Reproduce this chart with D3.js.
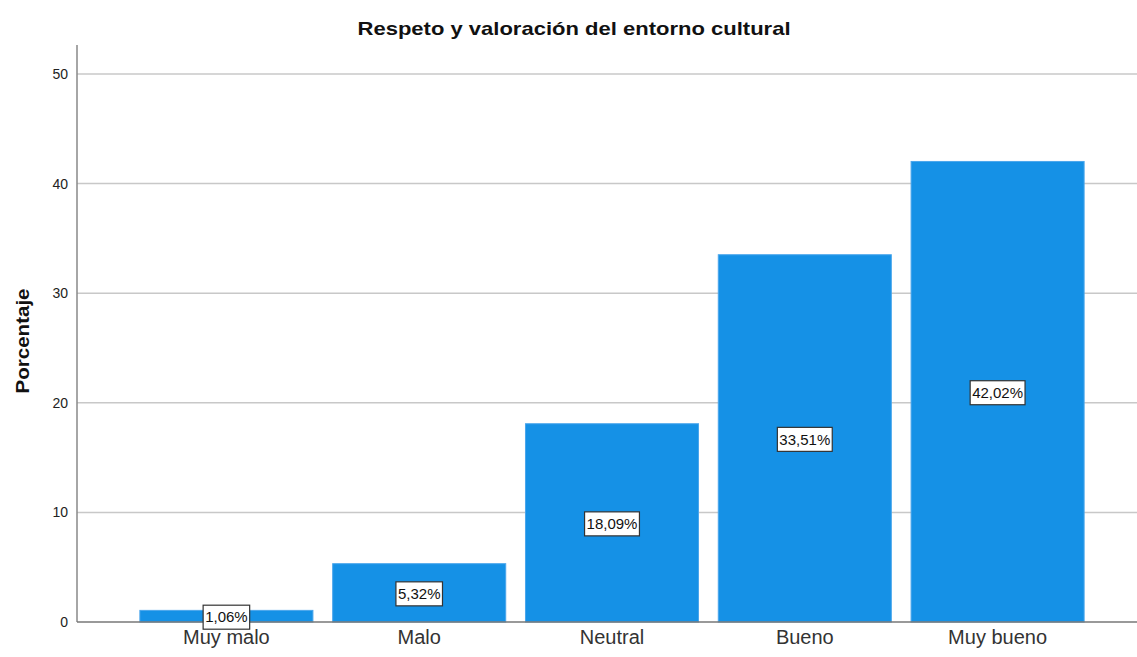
<!DOCTYPE html>
<html>
<head>
<meta charset="utf-8">
<script src="https://cdn.jsdelivr.net/npm/d3@7"></script>
<style>
  body { margin: 0; background: #fff; }
  text { font-family: "Liberation Sans", Arial, sans-serif; }
</style>
</head>
<body>
<svg id="chart" width="1137" height="657"></svg>
<script>
// Data
const categories = ["Muy malo", "Malo", "Neutral", "Bueno", "Muy bueno"]
const percentages = [1.06, 5.32, 18.09, 33.51, 42.02]
const yTicks = [0, 10, 20, 30, 40, 50]

const svg = d3.select("#chart")

const x = d3.scaleBand()
  .domain(categories)
  .range([130, 1094])
  .paddingInner(0.1025)
  .paddingOuter(0.05125)

const y = d3.scaleLinear()
  .domain([0, 50])
  .range([622, 74])

const axisLeft = 77
const axisRight = 1137

// Title
svg.append("text")
  .attr("x", 574)
  .attr("y", 35)
  .attr("text-anchor", "middle")
  .attr("font-size", 19)
  .attr("font-weight", "bold")
  .attr("fill", "#111")
  .attr("textLength", 433)
  .attr("lengthAdjust", "spacingAndGlyphs")
  .text("Respeto y valoración del entorno cultural")

// Gridlines
svg.append("g")
  .selectAll("line")
  .data(yTicks.filter(d => d > 0))
  .enter().append("line")
  .attr("x1", axisLeft)
  .attr("x2", axisRight)
  .attr("y1", d => y(d))
  .attr("y2", d => y(d))
  .attr("stroke", "#c8c8c8")
  .attr("stroke-width", 1.5)

// Y axis (labels only, no tick marks)
const yAxis = svg.append("g")
  .attr("transform", `translate(${axisLeft},0)`)
  .call(d3.axisLeft(y).tickValues(yTicks).tickSize(0).tickPadding(9))
yAxis.select(".domain").remove()
yAxis.selectAll("text")
  .attr("font-size", 14)
  .attr("fill", "#222")
  .style("font-family", "'Liberation Sans', Arial, sans-serif")

svg.append("line")
  .attr("x1", axisLeft).attr("x2", axisLeft)
  .attr("y1", 45).attr("y2", y(0))
  .attr("stroke", "#888")
  .attr("stroke-width", 1.5)

// Bars
svg.append("g")
  .selectAll("rect")
  .data(categories)
  .enter().append("rect")
  .attr("x", d => x(d))
  .attr("width", x.bandwidth())
  .attr("y", (d, i) => y(percentages[i]))
  .attr("height", (d, i) => y(0) - y(percentages[i]))
  .attr("fill", "#1591e6")
  .attr("stroke", "#4aa6ec")
  .attr("stroke-width", 1)

// Baseline
svg.append("line")
  .attr("x1", axisLeft).attr("x2", axisRight)
  .attr("y1", y(0)).attr("y2", y(0))
  .attr("stroke", "#777")
  .attr("stroke-width", 1.5)

// X axis labels
const xAxis = svg.append("g")
  .attr("transform", `translate(0,${y(0)})`)
  .call(d3.axisBottom(x).tickSize(0).tickPadding(8))
xAxis.select(".domain").remove()
xAxis.selectAll("text")
  .attr("font-size", 20)
  .attr("fill", "#333")
  .style("font-family", "'Liberation Sans', Arial, sans-serif")

// Y axis title
svg.append("text")
  .attr("transform", "translate(29,341) rotate(-90)")
  .attr("text-anchor", "middle")
  .attr("font-size", 19)
  .attr("font-weight", "bold")
  .attr("fill", "#111")
  .attr("textLength", 105)
  .attr("lengthAdjust", "spacingAndGlyphs")
  .text("Porcentaje")

// Value labels in boxes
const fmt = v => v.toFixed(2).replace(".", ",") + "%"
const labels = svg.append("g")
  .selectAll("g")
  .data(categories)
  .enter().append("g")
  .attr("transform", (d, i) => `translate(${x(d) + x.bandwidth() / 2},${(y(0) + y(percentages[i])) / 2 + 1})`)

labels.append("text")
  .attr("text-anchor", "middle")
  .attr("dy", "0.35em")
  .attr("font-size", 15)
  .attr("fill", "#111")
  .text((d, i) => fmt(percentages[i]))

labels.each(function() {
  const g = d3.select(this)
  const bb = g.select("text").node().getBBox()
  g.insert("rect", "text")
    .attr("x", bb.x - 2)
    .attr("y", -12)
    .attr("width", bb.width + 4)
    .attr("height", 24)
    .attr("fill", "#fff")
    .attr("stroke", "#333")
    .attr("stroke-width", 1.2)
})
</script>
</body>
</html>
